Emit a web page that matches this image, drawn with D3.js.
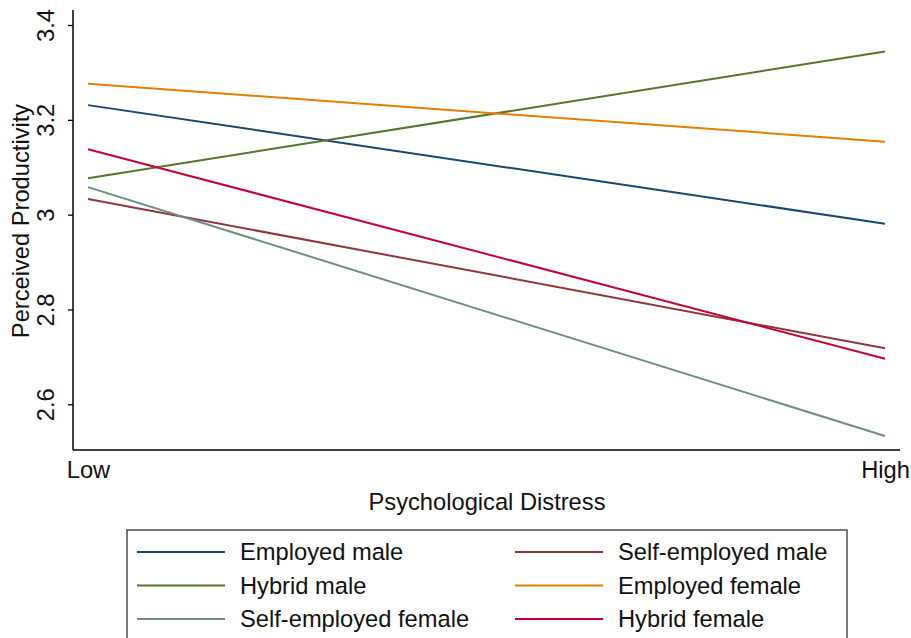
<!DOCTYPE html>
<html>
<head>
<meta charset="utf-8">
<script src="https://cdn.jsdelivr.net/npm/d3@7"></script>
<style>
    body { margin: 0; background: #fff; }
    svg { display: block; font-family: "Liberation Sans", Arial, sans-serif; }
</style>
</head>
<body>
<div id="chart"></div>
<script>
const levels = ["Low", "High"];
const seriesNames = ["Employed male", "Self-employed male", "Hybrid male", "Employed female", "Self-employed female", "Hybrid female"];
const lowValues = [3.231, 3.033, 3.077, 3.276, 3.058, 3.138];
const highValues = [2.981, 2.718, 3.344, 3.154, 2.533, 2.696];
const seriesColors = ["#1a476f", "#90353b", "#55752f", "#e37e00", "#6e8e84", "#c10534"];
const yTicks = [2.6, 2.8, 3, 3.2, 3.4];

const width = 911, height = 638;
const fontSize = 23.7;

const svg = d3.select("#chart")
    .append("svg")
    .attr("width", width)
    .attr("height", height);

// x: Low/High positions, y: productivity
const x = d3.scalePoint().domain(levels).range([88, 885]);
const y = d3.scaleLinear().domain([2.6, 3.4]).range([404.3, 25]);

const plotLeft = 73, plotRight = 900, plotTop = 10, plotBottom = 450;

// axes lines
svg.append("line")
    .attr("x1", plotLeft).attr("x2", plotLeft)
    .attr("y1", plotTop).attr("y2", plotBottom)
    .attr("stroke", "#000").attr("stroke-width", 1.5);
svg.append("line")
    .attr("x1", plotLeft).attr("x2", plotRight)
    .attr("y1", plotBottom).attr("y2", plotBottom)
    .attr("stroke", "#000").attr("stroke-width", 1.5);

const yAxis = svg.append("g")
    .attr("transform", `translate(${plotLeft},0)`)
    .call(d3.axisLeft(y).tickValues(yTicks).tickSize(5).tickFormat(d3.format("")));
yAxis.select(".domain").remove();
yAxis.selectAll(".tick line").attr("stroke", "#000").attr("stroke-width", 1.3);
yAxis.selectAll(".tick text")
    .attr("font-size", fontSize)
    .attr("fill", "#111")
    .attr("x", null).attr("dy", null)
    .attr("text-anchor", "middle")
    .attr("transform", "translate(-19,0) rotate(-90)");

const xAxis = svg.append("g")
    .attr("transform", `translate(0,${plotBottom})`)
    .call(d3.axisBottom(x).tickSize(0));
xAxis.select(".domain").remove();
xAxis.selectAll(".tick text")
    .attr("font-size", fontSize)
    .attr("fill", "#111")
    .attr("dy", null)
    .attr("y", 28);

// axis titles
svg.append("text")
    .attr("transform", "translate(29,221) rotate(-90)")
    .attr("text-anchor", "middle")
    .attr("font-size", fontSize)
    .attr("fill", "#111")
    .text("Perceived Productivity");

svg.append("text")
    .attr("x", 487).attr("y", 510)
    .attr("text-anchor", "middle")
    .attr("font-size", fontSize)
    .attr("fill", "#111")
    .text("Psychological Distress");

// lines
const series = seriesNames.map((name, i) => ({
    name: name,
    color: seriesColors[i],
    values: [{level: levels[0], v: lowValues[i]}, {level: levels[1], v: highValues[i]}]
}));

const line = d3.line()
    .x(d => x(d.level))
    .y(d => y(d.v));

svg.selectAll(".series")
    .data(series)
    .join("path")
    .attr("class", "series")
    .attr("d", d => line(d.values))
    .attr("fill", "none")
    .attr("stroke", d => d.color)
    .attr("stroke-width", 2);

// legend
const legend = svg.append("g");
legend.append("rect")
    .attr("x", 127).attr("y", 530)
    .attr("width", 720).attr("height", 120)
    .attr("fill", "#fff")
    .attr("stroke", "#333")
    .attr("stroke-width", 1.3);

const items = legend.selectAll(".item")
    .data(series)
    .join("g")
    .attr("class", "item")
    .attr("transform", (d, i) => `translate(${i % 2 === 0 ? 137 : 515},${552 + Math.floor(i / 2) * 33.5})`);

items.append("line")
    .attr("x1", 0).attr("x2", 88)
    .attr("stroke", d => d.color)
    .attr("stroke-width", 2);

items.append("text")
    .attr("x", 103)
    .attr("dy", "0.35em")
    .attr("font-size", fontSize)
    .attr("fill", "#111")
    .text(d => d.name);
</script>
</body>
</html>
